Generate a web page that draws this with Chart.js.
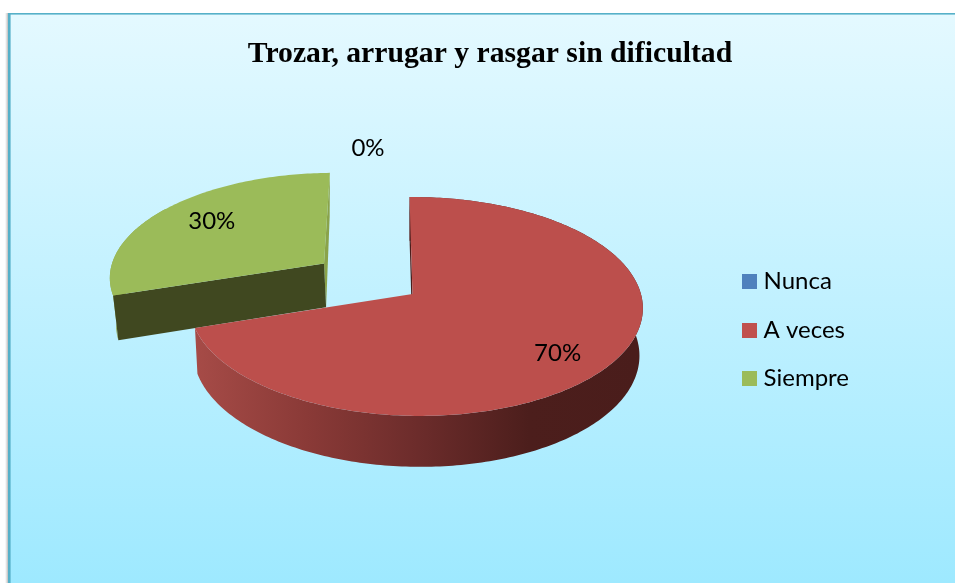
<!DOCTYPE html>
<html><head><meta charset="utf-8">
<style>html,body{margin:0;padding:0;background:#fff}canvas{display:block}</style>
<script src="https://cdn.jsdelivr.net/npm/chart.js@4"></script>
</head><body><canvas id="c" width="955" height="583"></canvas>
<script>
const titleText = 'Trozar, arrugar y rasgar sin dificultad';
const categories = ['Nunca', 'A veces', 'Siempre'];
const values = [0, 70, 30];
const colors = ['#4f81bd', '#bc4f4c', '#9bbb59'];
const legendColors = ['#4f81bd', '#c0504d', '#9bbb59'];

const TOP = {cx:412.5, cy:294, a:108, b:225, c:3.3, p:.114, q:.015};
const BOT = {cx:412.5, cy:338.5, a:111, b:221, c:3.3, p:.135, q:.015};
const rimStyles = {1:{edgeStart:'#4c1e1c'}, 2:{rim:'#8fa84e', rimSpan:.5, edgeStart:'#404820', edgeEnd:'#8aa34b', endInset:3.5}};
const labelPlace = {0:{r:1.61, dx:-40, dy:1}, 1:{r:.8, dx:-12, dy:5}, 2:{r:.72, dx:4, dy:-2}};

function proj(m,u,v){const d=1-m.p*v-m.q*u;return [m.cx+(m.b*u+m.c*v)/d, m.cy+m.a*v/d];}
function disc(th,r,d,mid){return [r*Math.sin(th)+d*Math.sin(mid), -r*Math.cos(th)-d*Math.cos(mid)];}

const background = {id:'background', beforeDraw(chart){
  const g=chart.ctx;
  g.save();
  g.fillStyle='#fff';g.fillRect(0,0,955,583);
  const s=g.createLinearGradient(5,0,8,0);s.addColorStop(0,'rgba(190,190,190,0)');s.addColorStop(1,'rgba(170,170,170,.8)');
  g.fillStyle=s;g.fillRect(5,13,3,570);
  const bg=g.createLinearGradient(0,14,0,583);bg.addColorStop(0,'#e4f9ff');bg.addColorStop(1,'#9ee9ff');
  g.fillStyle=bg;g.fillRect(8,13,947,570);
  g.fillStyle='#56b0c8';g.fillRect(8,13,947,1.6);g.fillRect(8,13,2.6,570);
  g.restore();
}};

const pie3d = {id:'pie3d', beforeDatasetsDraw(chart){
  const g=chart.ctx, arcs=chart.getDatasetMeta(0).data;
  const path=(pts)=>{g.beginPath();pts.forEach((p,i)=>i?g.lineTo(p[0],p[1]):g.moveTo(p[0],p[1]));g.closePath();};
  for(let i=arcs.length-1;i>=0;i--){
    const el=arcs[i];
    const a0=el.startAngle+Math.PI/2, a1=el.endAngle+Math.PI/2;
    if(a1-a0<1e-4) continue;
    const mid=(a0+a1)/2, d=el.options.offset/el.outerRadius;
    const n=Math.max(8,Math.ceil((a1-a0)*60));
    const topArc=[],botArc=[];
    for(let k=0;k<=n;k++){const th=a0+(a1-a0)*k/n,[u,v]=disc(th,1,d,mid);topArc.push(proj(TOP,u,v));botArc.push(proj(BOT,u,v));}
    const [au,av]=disc(0,0,d,mid), apT=proj(TOP,au,av), apB=proj(BOT,au,av);
    const st=rimStyles[i]||{};
    g.save();
    // rim
    const span=Math.round(n*(st.rimSpan||1));
    path(topArc.slice(0,span+1).concat(botArc.slice(0,span+1).reverse()));
    if(st.rim) g.fillStyle=st.rim;
    else{const r=g.createLinearGradient(196,0,640,0);
      r.addColorStop(0,'#a64b47');r.addColorStop(.25,'#8a3a37');r.addColorStop(.5,'#6c2c2b');r.addColorStop(.75,'#4c1e1c');r.addColorStop(1,'#4a1d1b');
      g.fillStyle=r;}
    g.fill();
    // cut walls
    if(st.edgeEnd){path([apT,topArc[n],[botArc[n][0]-(st.endInset||0),botArc[n][1]],apB]);g.fillStyle=st.edgeEnd;g.fill();}
    if(st.edgeStart){path([apT,topArc[0],botArc[0],apB]);g.fillStyle=st.edgeStart;g.fill();}
    // top face
    path([apT].concat(topArc));g.fillStyle=el.options.backgroundColor;g.fill();
    g.restore();
  }
  return false;
}, afterDraw(chart){
  const g=chart.ctx, arcs=chart.getDatasetMeta(0).data, total=values.reduce((a,b)=>a+b,0);
  g.save();g.fillStyle='#000';g.font='24px Lato';g.textAlign='center';g.textBaseline='middle';
  arcs.forEach((el,i)=>{
    const a0=el.startAngle+Math.PI/2,a1=el.endAngle+Math.PI/2,mid=(a0+a1)/2,d=el.options.offset/el.outerRadius;
    const lp=labelPlace[i],[u,v]=disc(mid,lp.r,d,mid),[x,y]=proj(TOP,u,v);
    g.fillText(Math.round(values[i]/total*100)+'%',x+lp.dx,y+lp.dy);
  });
  g.restore();
}};

function swatch(col){const s=document.createElement('canvas');s.width=15;s.height=15;const c=s.getContext('2d');c.fillStyle=col;c.fillRect(0,0,15,15);return s;}

new Chart(document.getElementById('c'),{
  type:'pie',
  data:{labels:categories,datasets:[{data:values,backgroundColor:colors,borderWidth:0,
    offset:(ctx)=>ctx.dataIndex===2?Math.min(ctx.chart.chartArea.width,ctx.chart.chartArea.height)/5:0}]},
  plugins:[background,pie3d],
  options:{responsive:false,animation:false,
    layout:{padding:{left:121,right:96,top:37,bottom:0}},
    plugins:{
      title:{display:true,text:titleText,color:'#000',font:{family:'"Liberation Serif"',size:29.7,weight:'bold'},padding:{top:0,bottom:4.4}},
      tooltip:{enabled:false},
      legend:{position:'right',fullSize:false,labels:{color:'#000',font:{family:'Lato',size:24},boxWidth:5,padding:24.5,usePointStyle:true,
        generateLabels(chart){return categories.map((t,i)=>({text:t,fillStyle:legendColors[i],strokeStyle:legendColors[i],lineWidth:0,pointStyle:swatch(legendColors[i]),hidden:false,index:i}));}
      }}
    }}
});
</script></body></html>
